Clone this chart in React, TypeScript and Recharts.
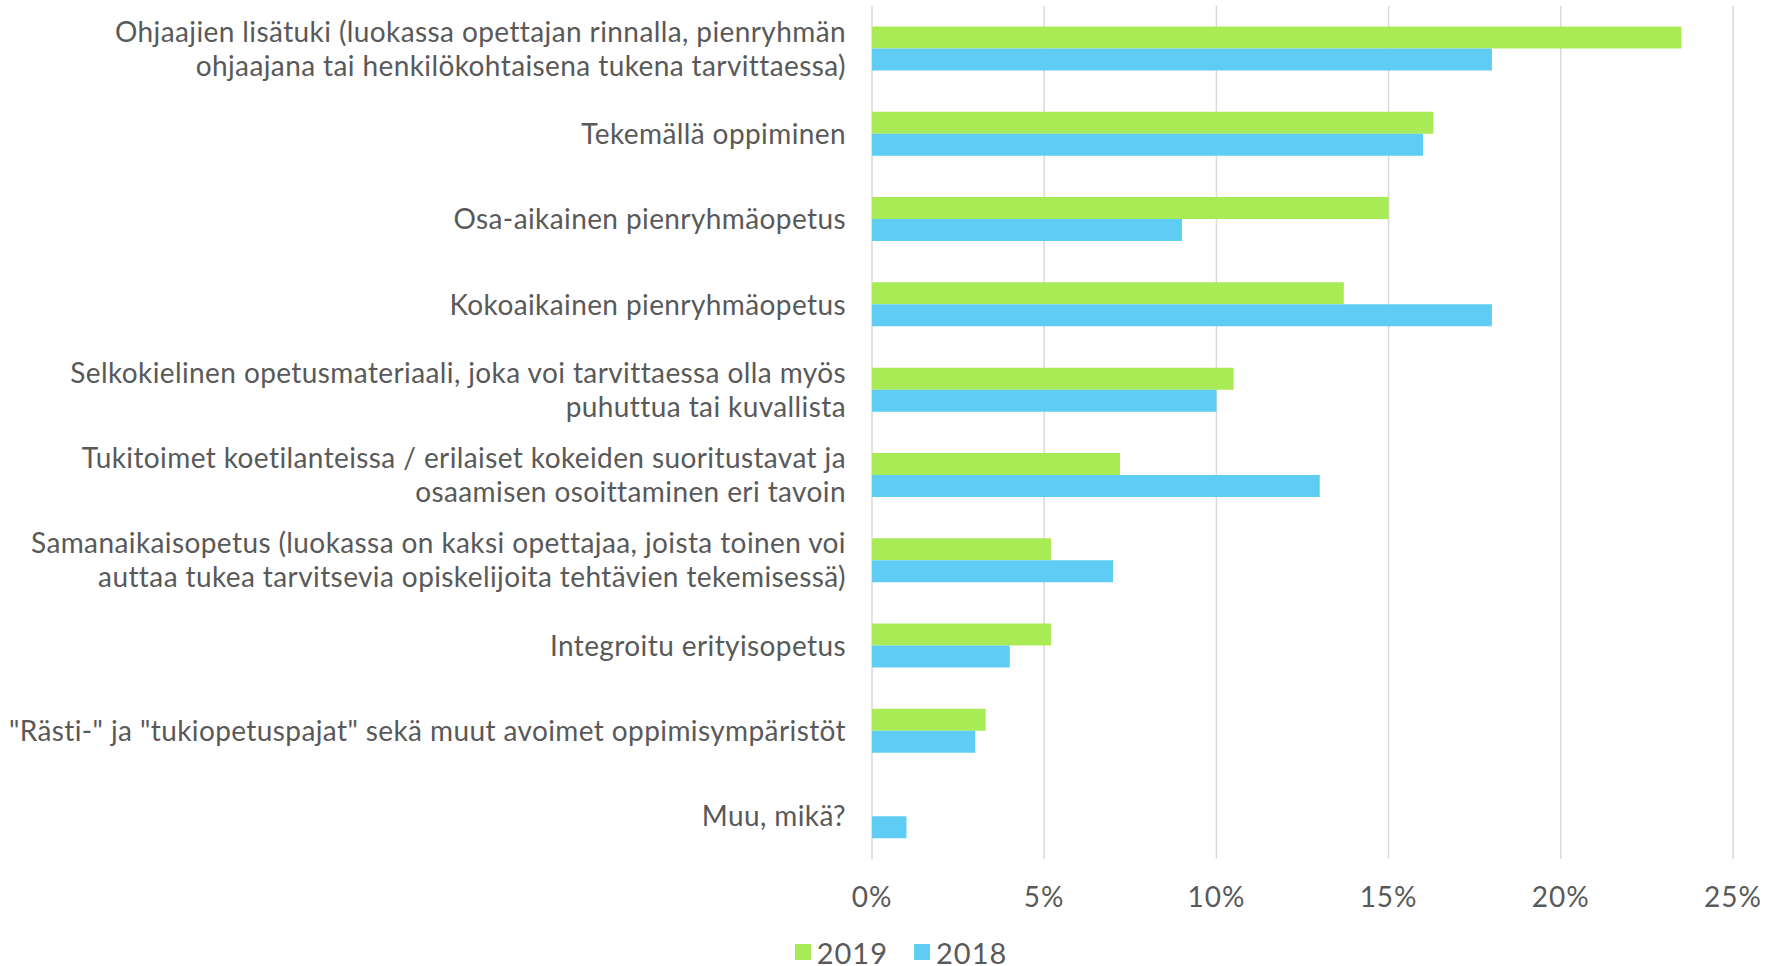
import React from 'react';
import {
  BarChart,
  Bar,
  XAxis,
  YAxis,
  CartesianGrid,
  Legend,
} from 'recharts';

const categories = [
  'Ohjaajien lisätuki (luokassa opettajan rinnalla, pienryhmän\nohjaajana tai henkilökohtaisena tukena tarvittaessa)',
  'Tekemällä oppiminen',
  'Osa-aikainen pienryhmäopetus',
  'Kokoaikainen pienryhmäopetus',
  'Selkokielinen opetusmateriaali, joka voi tarvittaessa olla myös\npuhuttua tai kuvallista',
  'Tukitoimet koetilanteissa / erilaiset kokeiden suoritustavat ja\nosaamisen osoittaminen eri tavoin',
  'Samanaikaisopetus (luokassa on kaksi opettajaa, joista toinen voi\nauttaa tukea tarvitsevia opiskelijoita tehtävien tekemisessä)',
  'Integroitu erityisopetus',
  '"Rästi-" ja "tukiopetuspajat" sekä muut avoimet oppimisympäristöt',
  'Muu, mikä?',
];

const values2019 = [23.5, 16.3, 15.0, 13.7, 10.5, 7.2, 5.2, 5.2, 3.3, 0];
const values2018 = [18.0, 16.0, 9.0, 18.0, 10.0, 13.0, 7.0, 4.0, 3.0, 1.0];

const xTicks = [0, 5, 10, 15, 20, 25];

const seriesNames = ['2019', '2018'];
const seriesColors = ['#A9EB55', '#5ECCF3'];

const data = categories.map((name, i) => ({
  name,
  v2019: values2019[i],
  v2018: values2018[i],
}));

const FONT = 'Lato, "Open Sans", sans-serif';
const TEXT = '#595959';

function CategoryTick(props: any) {
  const { x, y, payload } = props;
  const lines = String(payload.value).split('\n');
  const lh = 34;
  const start = -((lines.length - 1) * lh) / 2;
  return (
    <text
      x={x - 18}
      y={y}
      textAnchor="end"
      fill={TEXT}
      fontSize={28}
      letterSpacing={0.4}
      fontFamily={FONT}
    >
      {lines.map((l, i) => (
        <tspan key={i} x={x - 18} dy={i === 0 ? start + 10 : lh}>
          {l}
        </tspan>
      ))}
    </text>
  );
}

function LegendContent() {
  return (
    <div
      style={{
        display: 'flex',
        justifyContent: 'center',
        alignItems: 'center',
        height: 50,
        paddingTop: 22,
        boxSizing: 'border-box',
        fontFamily: FONT,
        fontSize: 29,
        letterSpacing: 1,
        color: TEXT,
        paddingLeft: 95,
      }}
    >
      {seriesNames.map((n, i) => (
        <div key={n} style={{ display: 'flex', alignItems: 'center', marginRight: 26 }}>
          <span
            style={{
              display: 'inline-block',
              width: 16,
              height: 16,
              background: seriesColors[i],
              marginRight: 6,
            }}
          />
          <span>{n}</span>
        </div>
      ))}
    </div>
  );
}

export default function App() {
  return (
    <div style={{ position: 'absolute', left: 0, top: 0, width: 1770, height: 966, background: '#fff' }}>
      <BarChart
        width={1770}
        height={966}
        data={data}
        layout="vertical"
        margin={{ top: 6, right: 37, left: 0, bottom: 0 }}
        barGap={0}
        barCategoryGap="24%"
      >
        <CartesianGrid horizontal={false} stroke="#D9D9D9" strokeWidth={1.5} />
        <XAxis
          type="number"
          domain={[0, 25]}
          ticks={xTicks}
          tickFormatter={(v) => `${v}%`}
          axisLine={false}
          tickLine={false}
          height={57}
          tick={{ fill: TEXT, fontSize: 28, letterSpacing: 1, fontFamily: FONT, dy: 20 }}
        />
        <YAxis
          type="category"
          dataKey="name"
          width={872}
          axisLine={false}
          tickLine={false}
          interval={0}
          tick={<CategoryTick />}
        />
        <Legend verticalAlign="bottom" content={<LegendContent />} />
        <Bar dataKey="v2019" name={seriesNames[0]} fill={seriesColors[0]} isAnimationActive={false} />
        <Bar dataKey="v2018" name={seriesNames[1]} fill={seriesColors[1]} isAnimationActive={false} />
      </BarChart>
    </div>
  );
}
